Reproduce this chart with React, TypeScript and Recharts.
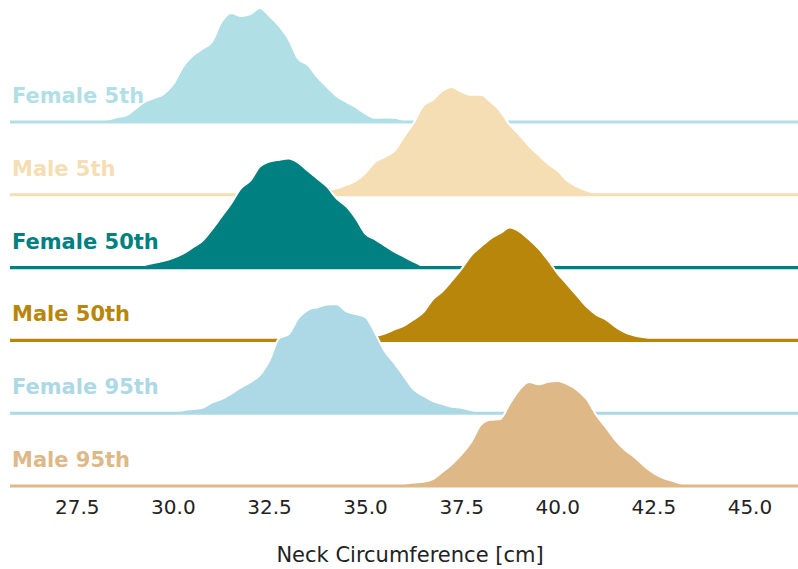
/**
 * Ridgeline plot of neck circumference by sex and percentile group.
 * Each ridge is a Recharts Area lifted onto its own baseline row.
 */
import { ComposedChart, Area, XAxis, YAxis } from "recharts";

const GROUPS = ["Female 5th", "Male 5th", "Female 50th", "Male 50th", "Female 95th", "Male 95th"];
const COLORS = ["#b0dfe5", "#f5deb3", "#008080", "#b8860b", "#add8e6", "#deb887"];
const X_TICKS = [27.5, 30, 32.5, 35, 37.5, 40, 42.5, 45];

// density (% per cm) sampled every 0.25 cm, starting at STARTS[i]
const STEP = 0.25;
const STARTS = [27.75, 32.75, 28.5, 33.75, 29.75, 35.5];

const FEMALE_5TH = [
  0, 0.3, 0.5, 1.2, 1.7, 3.4, 5.3, 6.3, 7.4, 10.0, 14.5, 17.4, 19.2, 21.1, 26.3, 28.7, 27.9, 28.4,
  30.0, 27.9, 25.3, 21.8, 16.6, 15.0, 11.8, 9.2, 6.8, 5.3, 3.9, 2.2, 1.1, 1.2, 1.1, 0.5, 0.3, 0,
];
const MALE_5TH = [
  0, 0.1, 0.3, 0.5, 0.8, 1.2, 1.7, 2.6, 3.7, 5.8, 8.7, 10.0, 11.6, 15.3, 18.9, 23.4, 25.0, 27.4,
  28.4, 27.1, 26.3, 26.3, 24.5, 22.1, 18.4, 15.8, 12.9, 10.5, 8.2, 6.3, 3.7, 2.2, 1.1, 0.4, 0,
];
const FEMALE_50TH = [
  0, 0.1, 0.2, 0.7, 1.3, 1.8, 2.6, 3.7, 5.3, 7.0, 10.0, 13.4, 16.8, 20.8, 22.9, 26.6, 27.9, 28.4,
  28.7, 27.6, 25.5, 23.4, 21.3, 18.2, 16.1, 12.9, 8.9, 7.4, 5.8, 4.2, 2.9, 1.6, 0.4, 0,
];
const MALE_50TH = [
  0, 0.1, 0.3, 0.4, 0.7, 0.9, 1.2, 1.8, 2.9, 3.9, 5.5, 7.4, 10.8, 12.9, 15.8, 18.9, 22.4, 24.7,
  26.8, 28.2, 29.7, 28.7, 26.6, 24.2, 21.1, 17.6, 14.7, 11.8, 8.9, 6.8, 5.5, 3.6, 2.1, 1.3, 0.8, 0.4, 0,
];
const FEMALE_95TH = [
  0, 0.1, 0.8, 1.1, 1.4, 2.8, 3.7, 5.1, 6.7, 8.2, 10.0, 13.9, 19.7, 20.8, 25.0, 27.2, 27.9, 28.6,
  28.7, 26.8, 26.1, 25.3, 21.1, 16.3, 13.2, 9.7, 6.3, 4.6, 3.2, 2.4, 1.7, 1.4, 0.8, 0.4, 0.1, 0,
];
const MALE_95TH = [
  0, 0.1, 0.5, 0.9, 1.1, 1.8, 3.7, 5.8, 8.4, 11.6, 16.1, 17.4, 17.6, 21.6, 25.3, 27.4, 26.8, 27.4,
  27.6, 26.8, 25.3, 22.9, 18.7, 15.5, 12.1, 9.5, 7.6, 5.3, 3.4, 2.1, 1.3, 0.5, 0,
];

const DENSITIES = [FEMALE_5TH, MALE_5TH, FEMALE_50TH, MALE_50TH, FEMALE_95TH, MALE_95TH];

const X_MIN = 25.75;
const X_MAX = 46.25;
const Y_MIN = -0.055;
const Y_MAX = 6.676;
const RIDGE_SCALE = 0.0522; // rows per density unit
const LINE_HALF = 0.021;
const FONT = "DejaVu Sans";

const rows = GROUPS.map((name, i) => {
  const base = GROUPS.length - 1 - i;
  return {
    name,
    base,
    color: COLORS[i],
    ridge: DENSITIES[i].map((d, k) => ({ x: STARTS[i] + k * STEP, y: base + d * RIDGE_SCALE })),
    line: [
      { x: X_MIN, y: base + LINE_HALF },
      { x: X_MAX, y: base + LINE_HALF },
    ],
  };
});

function RowLabel(props: any) {
  const { y, payload } = props;
  const i = GROUPS.length - 1 - payload.value;
  return (
    <text x={12} y={y - 19} fill={COLORS[i]} fontSize={21} fontWeight="bold" fontFamily={FONT}>
      {GROUPS[i]}
    </text>
  );
}

function XTick(props: any) {
  const { x, payload } = props;
  return (
    <text x={x} y={514} textAnchor="middle" fontSize={20} fill="#222" fontFamily={FONT}>
      {Number(payload.value).toFixed(1)}
    </text>
  );
}

function AxisTitle() {
  return (
    <text x={410} y={562} textAnchor="middle" fontSize={21} fill="#222" fontFamily={FONT}>
      Neck Circumference [cm]
    </text>
  );
}

export default function App() {
  return (
    <div style={{ position: "absolute", left: 0, top: 0, background: "#fff" }}>
      <ComposedChart width={798} height={569} margin={{ top: 0, right: 0, bottom: 0, left: 0 }}>
        <XAxis
          type="number"
          dataKey="x"
          domain={[X_MIN, X_MAX]}
          ticks={X_TICKS}
          interval={0}
          axisLine={false}
          tickLine={false}
          height={79}
          tick={<XTick />}
          label={<AxisTitle />}
        />
        <YAxis
          type="number"
          domain={[Y_MIN, Y_MAX]}
          ticks={[0, 1, 2, 3, 4, 5]}
          interval={0}
          axisLine={false}
          tickLine={false}
          width={10}
          tick={<RowLabel />}
        />
        {rows.flatMap((r) => [
          <Area
            key={r.name + "-ridge"}
            data={r.ridge}
            dataKey="y"
            type="monotone"
            baseValue={r.base}
            fill={r.color}
            fillOpacity={1}
            stroke="#ffffff"
            strokeWidth={2}
            dot={false}
            activeDot={false}
            isAnimationActive={false}
          />,
          <Area
            key={r.name + "-line"}
            data={r.line}
            dataKey="y"
            type="linear"
            baseValue={r.base - LINE_HALF}
            fill={r.color}
            fillOpacity={1}
            stroke="none"
            dot={false}
            activeDot={false}
            isAnimationActive={false}
          />,
        ])}
      </ComposedChart>
    </div>
  );
}
